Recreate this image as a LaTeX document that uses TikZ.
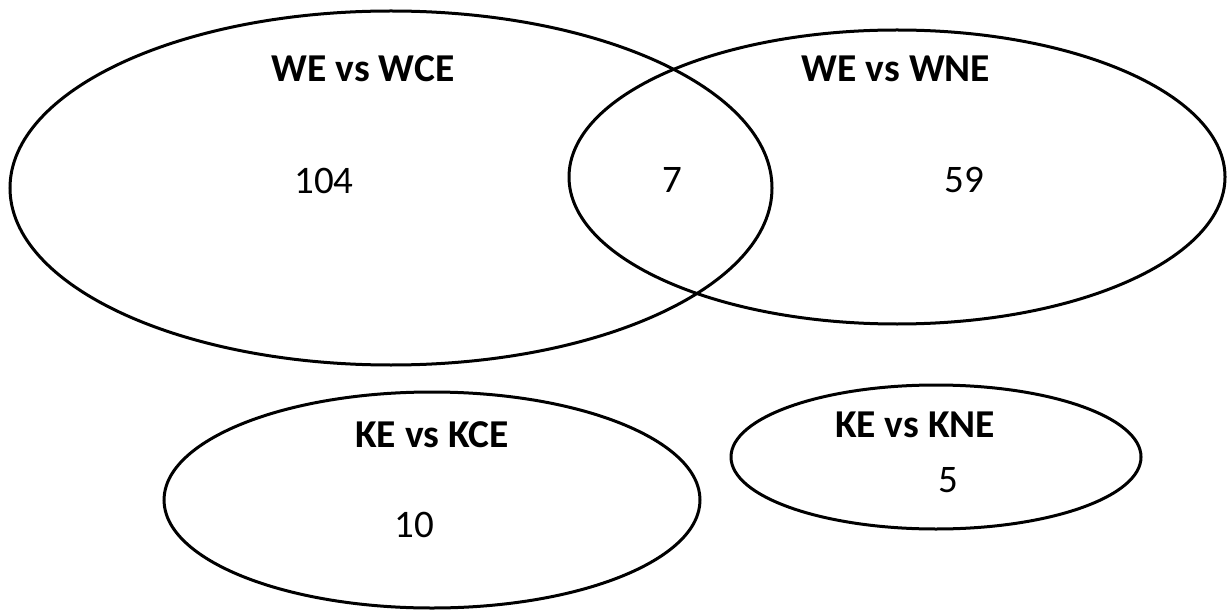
\documentclass[tikz,border=0pt]{standalone}
\usepackage{fontspec}
\setmainfont{Carlito}
\begin{document}
\begin{tikzpicture}[x=1pt,y=-1pt,
  set/.style={draw=black,line width=3pt,fill=none},
  title/.style={font=\fontsize{39.5}{42}\selectfont\bfseries,inner sep=0pt},
  num/.style={font=\fontsize{39}{42}\selectfont,inner sep=0pt}]
\useasboundingbox (0,0) rectangle (1230,612);
\draw[set] (391,188) ellipse [x radius=381, y radius=177];
\draw[set] (897,177) ellipse [x radius=328, y radius=147];
\draw[set] (432,500) ellipse [x radius=268, y radius=108];
\draw[set] (936,457) ellipse [x radius=205, y radius=72];
\node[title] (t1) at (363,69) {WE vs WCE};
\node[title] (t2) at (896,69) {WE vs WNE};
\node[title] (t3) at (432,434.5) {KE vs KCE};
\node[title] (t4) at (915,424.5) {KE vs KNE};
\node[num] (n1) at (324,181) {104};
\node[num] (n2) at (672,180) {7};
\node[num] (n3) at (964,179.5) {59};
\node[num] (n4) at (414.5,524.5) {10};
\node[num] (n5) at (948,480.5) {5};
\end{tikzpicture}
\end{document}
